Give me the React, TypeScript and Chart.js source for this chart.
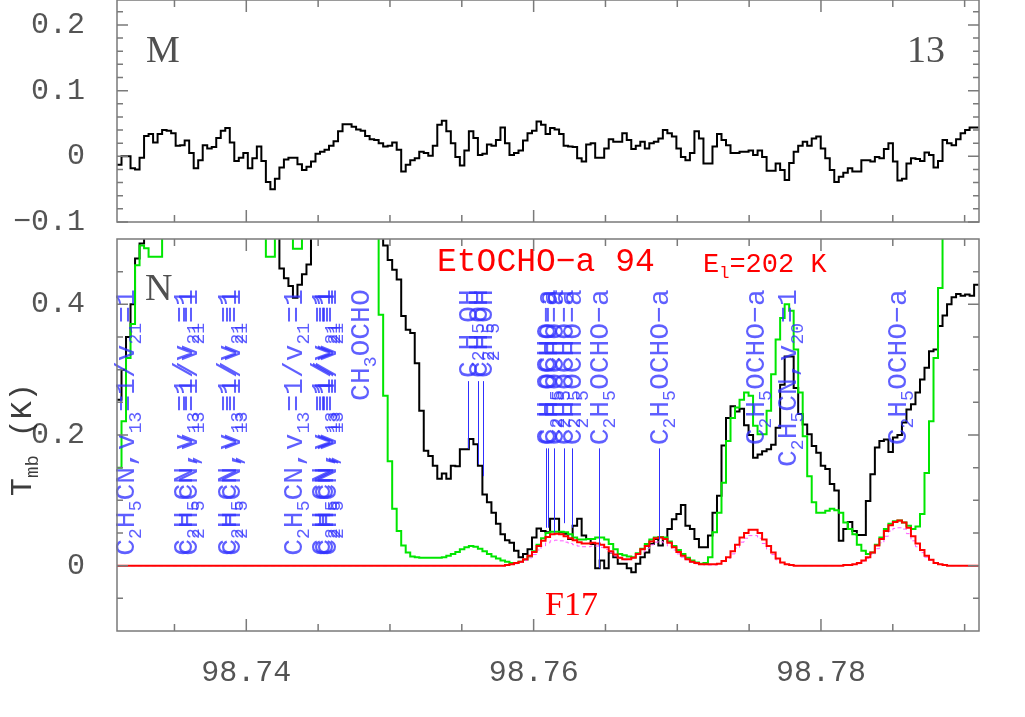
import React, { useEffect, useRef } from "react";
import { Chart, registerables } from "chart.js";

Chart.register(...registerables);

// ---------------- data ----------------
const FREQ_START = 98.731; // GHz, lower edge of first channel
const CHANNEL_WIDTH = 0.000314; // GHz
const X_MIN = 98.731;
const X_MAX = 98.791;
const X_TICK_LABELS = [98.74, 98.76, 98.78];
const X_MINOR_TICKS = [98.735, 98.745, 98.75, 98.755, 98.765, 98.77, 98.775, 98.785, 98.79];

const TOP_Y_MIN = -0.1;
const TOP_Y_MAX = 0.238;
const TOP_Y_LABELS = [-0.1, 0, 0.1, 0.2];
const TOP_Y_MINOR = [-0.08, -0.06, -0.04, -0.02, 0.02, 0.04, 0.06, 0.08, 0.12, 0.14, 0.16, 0.18, 0.22];

const BOT_Y_MIN = -0.1;
const BOT_Y_MAX = 0.5;
const BOT_Y_LABELS = [0, 0.2, 0.4];
const BOT_Y_MINOR = [-0.05, 0.05, 0.1, 0.15, 0.25, 0.3, 0.35, 0.45];

const H = 0.6; // off-scale (above plot top)

// residuals (top panel, K)
const RESIDUAL = [
  -0.013, 0.0, 0.0, -0.018, -0.02, -0.002, 0.031, 0.034, 0.021, 0.034,
  0.04, 0.039, 0.035, 0.016, 0.017, 0.024, 0.005, -0.018, -0.006, 0.017,
  0.012, 0.014, 0.028, 0.039, 0.043, 0.021, -0.007, -0.002, 0.005, -0.018,
  -0.003, 0.015, -0.007, -0.039, -0.05, -0.034, -0.017, -0.005, -0.002, -0.002,
  -0.012, -0.021, -0.016, -0.008, 0.004, 0.007, 0.01, 0.016, 0.023, 0.038,
  0.049, 0.049, 0.045, 0.041, 0.039, 0.031, 0.026, 0.025, 0.02, 0.015,
  0.016, 0.021, 0.01, -0.023, -0.013, -0.006, -0.003, 0.007, 0.005, 0.001,
  0.016, 0.048, 0.054, 0.038, 0.02, -0.001, -0.014, 0.009, 0.038, 0.028,
  0.002, 0.004, 0.018, 0.016, 0.025, 0.044, 0.02, 0.002, 0.005, 0.009,
  0.024, 0.035, 0.039, 0.053, 0.048, 0.034, 0.043, 0.041, 0.034, 0.016,
  0.015, 0.014, -0.003, -0.008, 0.018, 0.02, -0.002, -0.002, 0.012, 0.026,
  0.022, 0.022, 0.035, 0.025, 0.011, 0.016, 0.022, 0.012, 0.02, 0.022,
  0.027, 0.04, 0.035, 0.03, 0.012, -0.001, -0.006, 0.005, 0.038, 0.027,
  -0.011, -0.011, 0.015, 0.034, 0.025, 0.017, 0.005, 0.005, 0.007, 0.007,
  0.009, 0.002, 0.009, -0.001, -0.022, -0.022, -0.011, -0.021, -0.036, -0.01,
  0.007, 0.016, 0.022, 0.016, 0.027, 0.03, 0.012, -0.003, -0.021, -0.039,
  -0.031, -0.025, -0.018, -0.023, -0.023, -0.006, -0.006, -0.008, -0.001, -0.003,
  0.011, 0.02, -0.008, -0.037, -0.034, -0.011, -0.003, -0.004, -0.007, 0.006,
  0.002, -0.017, -0.007, 0.025, 0.02, 0.017, 0.026, 0.035, 0.04, 0.044,
  0.044,
];

// observed spectrum (bottom panel, K)
const OBSERVED = [
  0.254, 0.3, 0.35, 0.4, 0.47, 0.493, H, H, H, H,
  H, H, H, H, H, H, H, H, H, H,
  H, H, H, H, H, H, H, H, H, H,
  H, H, H, H, H, H, 0.455, 0.44, 0.428, 0.41,
  0.43, 0.446, 0.461, H, H, H, H, H, H, H,
  H, H, H, H, H, H, H, H, H, 0.49,
  0.468, 0.453, 0.438, 0.382, 0.361, 0.356, 0.31, 0.237, 0.176, 0.168,
  0.153, 0.133, 0.141, 0.133, 0.153, 0.152, 0.178, 0.178, 0.194, 0.186,
  0.153, 0.109, 0.097, 0.081, 0.064, 0.048, 0.039, 0.035, 0.023, 0.013,
  0.018, 0.025, 0.043, 0.057, 0.053, 0.051, 0.072, 0.072, 0.051, 0.049,
  0.041, 0.061, 0.072, 0.046, 0.041, 0.033, -0.004, 0.008, -0.004, 0.02,
  0.013, 0.003, 0.003, -0.004, -0.01, 0.003, 0.013, 0.02, 0.033, 0.041,
  0.031, 0.041, 0.056, 0.071, 0.079, 0.093, 0.061, 0.056, 0.041, 0.028,
  0.028, 0.046, 0.081, 0.107, 0.184, 0.226, 0.244, 0.236, 0.24, 0.215,
  0.2, 0.165, 0.17, 0.175, 0.178, 0.185, 0.211, 0.277, 0.32, 0.32,
  0.272, 0.232, 0.216, 0.201, 0.183, 0.173, 0.153, 0.148, 0.125, 0.115,
  0.038, 0.056, 0.067, 0.053, 0.047, 0.047, 0.099, 0.14, 0.181, 0.191,
  0.193, 0.174, 0.196, 0.2, 0.219, 0.239, 0.247, 0.265, 0.285, 0.303,
  0.328, 0.331, 0.367, 0.383, 0.4, 0.411, 0.416, 0.413, 0.415, 0.413,
  0.43,
];

// model including all species (green)
const MODEL_ALL = [
  0.15, 0.221, 0.318, 0.37, 0.46, 0.49, 0.486, 0.473, 0.473, 0.473,
  H, H, H, H, H, H, H, H, H, H,
  H, H, H, H, H, H, H, H, H, H,
  H, H, H, 0.473, 0.473, H, H, H, H, 0.485,
  0.485, H, H, H, H, H, H, H, H, H,
  H, H, H, H, H, H, H, H, 0.384, 0.26,
  0.16, 0.087, 0.053, 0.031, 0.02, 0.014, 0.013, 0.012, 0.012, 0.012,
  0.012, 0.012, 0.013, 0.015, 0.018, 0.021, 0.025, 0.028, 0.03, 0.029,
  0.026, 0.022, 0.018, 0.014, 0.011, 0.008, 0.006, 0.004, 0.004, 0.006,
  0.009, 0.014, 0.022, 0.032, 0.042, 0.05, 0.052, 0.052, 0.052, 0.051,
  0.048, 0.043, 0.04, 0.04, 0.041, 0.041, 0.043, 0.043, 0.04, 0.033,
  0.025, 0.018, 0.016, 0.014, 0.013, 0.019, 0.026, 0.033, 0.04, 0.043,
  0.044, 0.043, 0.037, 0.03, 0.024, 0.018, 0.012, 0.008, 0.005, 0.003,
  0.004, 0.013, 0.051, 0.081, 0.127, 0.191, 0.226, 0.242, 0.254, 0.265,
  0.26, 0.214, 0.201, 0.201, 0.237, 0.293, 0.346, 0.379, 0.4, 0.39,
  0.331, 0.265, 0.198, 0.137, 0.097, 0.081, 0.081, 0.084, 0.087, 0.085,
  0.081, 0.066, 0.056, 0.048, 0.032, 0.023, 0.018, 0.02, 0.032, 0.043,
  0.056, 0.064, 0.068, 0.069, 0.066, 0.061, 0.056, 0.06, 0.079, 0.142,
  0.221, 0.318, 0.425, H, H, H, H, H, H, H,
  H,
];

// EtOCHO-a model (red)
const MODEL_ETOCHO = [
  0, 0, 0, 0, 0, 0, 0, 0, 0, 0,
  0, 0, 0, 0, 0, 0, 0, 0, 0, 0,
  0, 0, 0, 0, 0, 0, 0, 0, 0, 0,
  0, 0, 0, 0, 0, 0, 0, 0, 0, 0,
  0, 0, 0, 0, 0, 0, 0, 0, 0, 0,
  0, 0, 0, 0, 0, 0, 0, 0, 0, 0,
  0, 0, 0, 0, 0, 0, 0, 0, 0, 0,
  0, 0, 0, 0, 0, 0, 0, 0, 0, 0,
  0, 0, 0, 0, 0, 0, 0.001, 0.002, 0.004, 0.006,
  0.01, 0.015, 0.021, 0.03, 0.038, 0.044, 0.048, 0.049, 0.048, 0.045,
  0.042, 0.039, 0.036, 0.034, 0.034, 0.035, 0.034, 0.032, 0.028, 0.022,
  0.017, 0.012, 0.01, 0.01, 0.012, 0.018, 0.025, 0.03, 0.037, 0.042,
  0.043, 0.041, 0.035, 0.028, 0.021, 0.015, 0.01, 0.006, 0.004, 0.002,
  0.002, 0.002, 0.002, 0.003, 0.007, 0.013, 0.022, 0.032, 0.043, 0.05,
  0.055, 0.055, 0.05, 0.04, 0.03, 0.02, 0.011, 0.005, 0.002, 0.001,
  0, 0, 0, 0, 0, 0, 0, 0, 0, 0,
  0, 0.001, 0.001, 0.002, 0.004, 0.008, 0.013, 0.02, 0.031, 0.041,
  0.053, 0.062, 0.067, 0.069, 0.066, 0.058, 0.045, 0.034, 0.024, 0.015,
  0.009, 0.004, 0.002, 0.001, 0, 0, 0, 0, 0, 0,
  0,
];

// second EtOCHO-a model (magenta dashed)
const MODEL_ETOCHO_ALT = [
  0, 0, 0, 0, 0, 0, 0, 0, 0, 0,
  0, 0, 0, 0, 0, 0, 0, 0, 0, 0,
  0, 0, 0, 0, 0, 0, 0, 0, 0, 0,
  0, 0, 0, 0, 0, 0, 0, 0, 0, 0,
  0, 0, 0, 0, 0, 0, 0, 0, 0, 0,
  0, 0, 0, 0, 0, 0, 0, 0, 0, 0,
  0, 0, 0, 0, 0, 0, 0, 0, 0, 0,
  0, 0, 0, 0, 0, 0, 0, 0, 0, 0,
  0, 0, 0, 0, 0, 0, 0.001, 0.002, 0.003, 0.005,
  0.008, 0.012, 0.017, 0.024, 0.03, 0.035, 0.038, 0.039, 0.038, 0.036,
  0.034, 0.032, 0.03, 0.029, 0.029, 0.03, 0.03, 0.028, 0.025, 0.02,
  0.015, 0.011, 0.009, 0.009, 0.011, 0.016, 0.021, 0.026, 0.032, 0.036,
  0.037, 0.035, 0.03, 0.024, 0.018, 0.013, 0.009, 0.005, 0.003, 0.002,
  0.001, 0.001, 0.001, 0.002, 0.006, 0.011, 0.018, 0.027, 0.036, 0.042,
  0.046, 0.046, 0.042, 0.034, 0.025, 0.017, 0.009, 0.004, 0.002, 0.001,
  0, 0, 0, 0, 0, 0, 0, 0, 0, 0,
  0, 0.001, 0.001, 0.002, 0.003, 0.007, 0.011, 0.017, 0.026, 0.035,
  0.045, 0.053, 0.057, 0.058, 0.056, 0.049, 0.038, 0.029, 0.02, 0.013,
  0.008, 0.004, 0.002, 0.001, 0, 0, 0, 0, 0, 0,
  0,
];

// line identifications (frequency GHz, label, lower end of marker line in K or null)
const LABEL_TOP = 0.423; // K, where label texts end
const LINE_FREQS = [
  98.73156, 98.73559, 98.73594, 98.73866, 98.73893, 98.74325, 98.7452, 98.74541, 98.74562,
  98.74791, 98.75543, 98.75613, 98.75648, 98.76086, 98.761, 98.76142, 98.76211, 98.76267,
  98.76455, 98.76873, 98.77541, 98.77763, 98.78529,
];
const V13 = "C_2H_5CN,v_{13}=1/v_{21}=1";
const ETF = "C_2H_5OCHO\u2212a";
const LINE_TEXTS = [
  V13, V13, V13, V13, V13, V13, V13, V13, V13,
  "CH_3OCHO", "C_2H_5OH", "C_2H_5OH", "C_2H_5OH", ETF, ETF, ETF, ETF, ETF,
  ETF, ETF, ETF, "C_2H_5CN,v_{20}=1", ETF,
];
const LINE_ENDS = [
  null, null, null, null, null, null, null, null, null,
  null, 0.179, 0.155, 0.137, 0.058, 0.058, 0.051, 0.065, 0.058,
  -0.004, 0.04, null, null, null,
];

// ---------------- helpers ----------------
function histogram(values: number[]) {
  const pts = values.map((v, i) => ({ x: FREQ_START + i * CHANNEL_WIDTH, y: v }));
  pts.push({ x: FREQ_START + values.length * CHANNEL_WIDTH, y: values[values.length - 1] });
  return pts;
}

type Seg = { t: string; sub: boolean };
function parseRich(s: string): Seg[] {
  const out: Seg[] = [];
  let buf = "";
  let i = 0;
  while (i < s.length) {
    const c = s[i];
    if (c === "_") {
      if (buf) {
        out.push({ t: buf, sub: false });
        buf = "";
      }
      if (s[i + 1] === "{") {
        const j = s.indexOf("}", i + 2);
        out.push({ t: s.slice(i + 2, j), sub: true });
        i = j + 1;
      } else {
        out.push({ t: s[i + 1], sub: true });
        i += 2;
      }
    } else {
      buf += c;
      i++;
    }
  }
  if (buf) out.push({ t: buf, sub: false });
  return out;
}

function richWidth(ctx: CanvasRenderingContext2D, segs: Seg[], size: number, family: string) {
  let w = 0;
  for (const sg of segs) {
    ctx.font = `${sg.sub ? Math.round(size * 0.64) : size}px ${family}`;
    w += ctx.measureText(sg.t).width;
  }
  return w;
}

function drawRich(
  ctx: CanvasRenderingContext2D,
  segs: Seg[],
  x: number,
  y: number,
  size: number,
  family: string,
  drop: number
) {
  let cx = x;
  for (const sg of segs) {
    ctx.font = `${sg.sub ? Math.round(size * 0.64) : size}px ${family}`;
    ctx.fillText(sg.t, cx, sg.sub ? y + drop : y);
    cx += ctx.measureText(sg.t).width;
  }
}

const MONO = "'Liberation Mono', 'DejaVu Sans Mono', monospace";
const SERIF = "'Liberation Serif', 'DejaVu Serif', serif";
const fmtY = (v: number) => (v < 0 ? "\u2212" + String(Math.abs(v)) : String(v));

function framePlugin(cfg: { yMajor: number[]; yMinor: number[] }) {
  return {
    id: "frameTicks",
    afterDraw(chart: any) {
      const { ctx, chartArea: a, scales } = chart;
      const xs = scales.x;
      const ys = scales.y;
      ctx.save();
      ctx.strokeStyle = "#7a7a7a";
      ctx.lineWidth = 1.5;
      ctx.strokeRect(a.left, a.top, a.right - a.left, a.bottom - a.top);
      ctx.beginPath();
      const xt = (v: number, len: number) => {
        const p = xs.getPixelForValue(v);
        ctx.moveTo(p, a.bottom);
        ctx.lineTo(p, a.bottom - len);
        ctx.moveTo(p, a.top);
        ctx.lineTo(p, a.top + len);
      };
      X_TICK_LABELS.forEach((v) => xt(v, 12));
      X_MINOR_TICKS.forEach((v) => xt(v, 7));
      const yt = (v: number, len: number) => {
        const p = ys.getPixelForValue(v);
        ctx.moveTo(a.left, p);
        ctx.lineTo(a.left + len, p);
        ctx.moveTo(a.right, p);
        ctx.lineTo(a.right - len, p);
      };
      cfg.yMajor.forEach((v) => yt(v, 11));
      cfg.yMinor.forEach((v) => yt(v, 6));
      ctx.stroke();
      ctx.restore();
    },
  };
}

const topTextPlugin = {
  id: "topText",
  afterDraw(chart: any) {
    const { ctx, chartArea: a } = chart;
    ctx.save();
    ctx.fillStyle = "#505050";
    ctx.font = `38px ${SERIF}`;
    ctx.textBaseline = "alphabetic";
    ctx.textAlign = "left";
    ctx.fillText("M", a.left + 29, a.top + 62);
    ctx.textAlign = "right";
    ctx.fillText("13", a.right - 34, a.top + 62);
    ctx.restore();
  },
};

const bottomTextPlugin = {
  id: "bottomText",
  afterDatasetsDraw(chart: any) {
    const { ctx, chartArea: a, scales } = chart;
    const xs = scales.x;
    const ys = scales.y;
    ctx.save();
    ctx.textBaseline = "alphabetic";
    ctx.textAlign = "left";
    // line identifications
    const size = 28;
    ctx.font = `${size}px ${MONO}`;
    const capH = ctx.measureText("H").actualBoundingBoxAscent || 18;
    const topPx = ys.getPixelForValue(LABEL_TOP);
    LINE_FREQS.forEach((f, k) => {
      const px = xs.getPixelForValue(f);
      const segs = parseRich(LINE_TEXTS[k]);
      const w = richWidth(ctx, segs, size, MONO);
      ctx.save();
      ctx.fillStyle = "rgba(50,50,255,0.78)";
      ctx.translate(px + capH / 2, topPx);
      ctx.rotate(-Math.PI / 2);
      drawRich(ctx, segs, -w, 0, size, MONO, 7);
      ctx.restore();
      const end = LINE_ENDS[k];
      if (end !== null && end !== undefined) {
        ctx.save();
        ctx.strokeStyle = "#3030ff";
        ctx.lineWidth = 1;
        ctx.beginPath();
        ctx.moveTo(Math.round(px) + 0.5, topPx + w + 3);
        ctx.lineTo(Math.round(px) + 0.5, ys.getPixelForValue(end));
        ctx.stroke();
        ctx.restore();
      }
    });
    // panel letter
    ctx.fillStyle = "#505050";
    ctx.font = `38px ${SERIF}`;
    ctx.fillText("N", a.left + 28, a.top + 61);
    // red annotations
    ctx.fillStyle = "#ff0000";
    ctx.font = `33px ${MONO}`;
    ctx.fillText("EtOCHO\u2212a 94", a.left + 320, a.top + 32);
    drawRich(ctx, parseRich("E_l=202 K"), a.left + 586, a.top + 33, 27, MONO, 6);
    ctx.font = `34px ${SERIF}`;
    ctx.fillText("F17", a.left + 428, a.top + 376);
    // y-axis title
    ctx.fillStyle = "rgba(40,40,40,0.9)";
    ctx.save();
    ctx.translate(31, a.top + 257);
    ctx.rotate(-Math.PI / 2);
    drawRich(ctx, parseRich("T_{mb} (K)"), 0, 0, 30, MONO, 7);
    ctx.restore();
    ctx.restore();
  },
};

const tickFont = { family: MONO, size: 30 };
const TICK_COLOR = "rgba(60,60,60,0.88)";

export default function App() {
  const topRef = useRef<HTMLCanvasElement>(null);
  const botRef = useRef<HTMLCanvasElement>(null);

  useEffect(() => {
    const topChart = new Chart(topRef.current as HTMLCanvasElement, {
      type: "line",
      data: {
        datasets: [
          {
            label: "residual",
            data: histogram(RESIDUAL),
            borderColor: "#000",
            borderWidth: 2,
            stepped: true,
            pointRadius: 0,
            fill: false,
          },
        ],
      },
      options: {
        animation: false,
        responsive: false,
        events: [],
        layout: { padding: { left: 0, right: 46, top: 0, bottom: 18 } },
        plugins: { legend: { display: false }, tooltip: { enabled: false } },
        scales: {
          x: { type: "linear", min: X_MIN, max: X_MAX, display: false },
          y: {
            type: "linear",
            min: TOP_Y_MIN,
            max: TOP_Y_MAX,
            afterBuildTicks: (s: any) => {
              s.ticks = TOP_Y_LABELS.map((v) => ({ value: v }));
            },
            afterFit: (s: any) => {
              s.width = 117;
              s.paddingTop = 0;
              s.paddingBottom = 0;
            },
            grid: { display: false, drawTicks: false },
            border: { display: false },
            ticks: {
              padding: 32,
              color: TICK_COLOR,
              font: tickFont,
              autoSkip: false,
              callback: (v: any) => fmtY(Number(v)),
            },
          },
        },
      },
      plugins: [framePlugin({ yMajor: TOP_Y_LABELS, yMinor: TOP_Y_MINOR }), topTextPlugin],
    } as any);

    const botChart = new Chart(botRef.current as HTMLCanvasElement, {
      type: "line",
      data: {
        datasets: [
          {
            label: "EtOCHO-a model",
            data: histogram(MODEL_ETOCHO),
            borderColor: "#ff0000",
            borderWidth: 2,
            stepped: true,
            pointRadius: 0,
            fill: false,
          },
          {
            label: "EtOCHO-a model (alt)",
            data: histogram(MODEL_ETOCHO_ALT),
            borderColor: "#ff55ff",
            borderWidth: 1,
            borderDash: [4, 3],
            stepped: true,
            pointRadius: 0,
            fill: false,
          },
          {
            label: "all species",
            data: histogram(MODEL_ALL),
            borderColor: "#00e600",
            borderWidth: 2,
            stepped: true,
            pointRadius: 0,
            fill: false,
          },
          {
            label: "observed",
            data: histogram(OBSERVED),
            borderColor: "#000",
            borderWidth: 2,
            stepped: true,
            pointRadius: 0,
            fill: false,
          },
        ],
      },
      options: {
        animation: false,
        responsive: false,
        events: [],
        layout: { padding: { left: 0, right: 46, top: 9, bottom: 0 } },
        plugins: { legend: { display: false }, tooltip: { enabled: false } },
        scales: {
          x: {
            type: "linear",
            min: X_MIN,
            max: X_MAX,
            afterBuildTicks: (s: any) => {
              s.ticks = X_TICK_LABELS.map((v) => ({ value: v }));
            },
            afterFit: (s: any) => {
              s.height = 86;
              s.paddingLeft = 0;
              s.paddingRight = 0;
            },
            grid: { display: false, drawTicks: false },
            border: { display: false },
            ticks: {
              padding: 24,
              color: TICK_COLOR,
              font: tickFont,
              autoSkip: false,
              maxRotation: 0,
              minRotation: 0,
              callback: (v: any) => Number(v).toFixed(2),
            },
          },
          y: {
            type: "linear",
            min: BOT_Y_MIN,
            max: BOT_Y_MAX,
            afterBuildTicks: (s: any) => {
              s.ticks = BOT_Y_LABELS.map((v) => ({ value: v }));
            },
            afterFit: (s: any) => {
              s.width = 117;
              s.paddingTop = 0;
              s.paddingBottom = 0;
            },
            grid: { display: false, drawTicks: false },
            border: { display: false },
            ticks: {
              padding: 32,
              color: TICK_COLOR,
              font: tickFont,
              autoSkip: false,
              callback: (v: any) => fmtY(Number(v)),
            },
          },
        },
      },
      plugins: [framePlugin({ yMajor: BOT_Y_LABELS, yMinor: BOT_Y_MINOR }), bottomTextPlugin],
    } as any);

    return () => {
      topChart.destroy();
      botChart.destroy();
    };
  }, []);

  return (
    <div style={{ position: "absolute", left: 0, top: 0, width: 1025, height: 717, background: "#fff", overflow: "hidden" }}>
      <canvas ref={topRef} width={1025} height={240} style={{ position: "absolute", left: 0, top: 0, width: 1025, height: 240 }} />
      <canvas ref={botRef} width={1025} height={487} style={{ position: "absolute", left: 0, top: 230, width: 1025, height: 487 }} />
    </div>
  );
}
